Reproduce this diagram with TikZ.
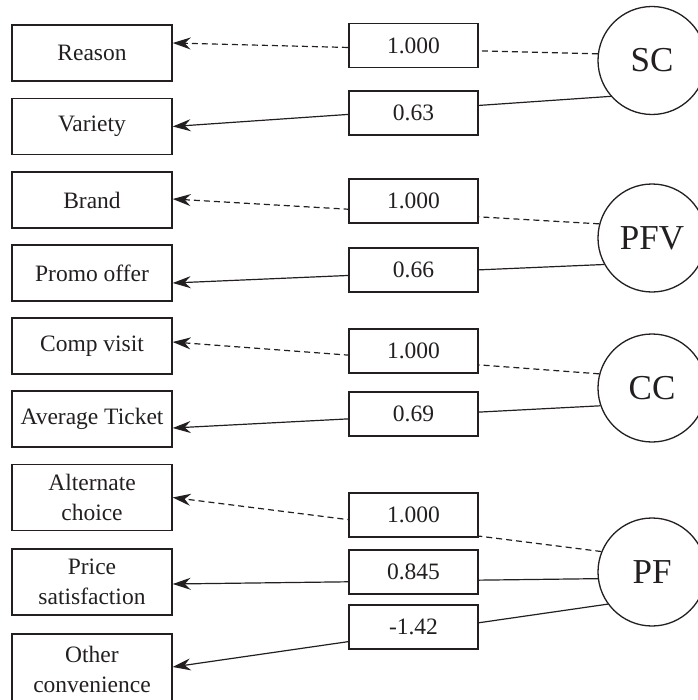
\documentclass[tikz,border=0pt]{standalone}
\usepackage{fontspec}
\setmainfont{Liberation Serif}
\usetikzlibrary{arrows.meta}
\definecolor{ink}{HTML}{231F20}
\begin{document}
\begin{tikzpicture}[x=1bp,y=-1bp,
  every node/.style={text=ink},
  leftbox/.style={draw=ink, line width=1.4bp, minimum width=160bp, minimum height=56bp, inner sep=0pt, align=center,
    font=\fontsize{23.5bp}{30bp}\selectfont},
  tallbox/.style={leftbox, minimum height=66bp},
  midbox/.style={draw=ink, fill=white, line width=1.4bp, minimum width=129bp, minimum height=44bp, inner sep=0pt,
    font=\fontsize{23.5bp}{28bp}\selectfont},
  latent/.style={draw=ink, circle, line width=1.3bp, minimum size=108bp, inner sep=0pt,
    font=\fontsize{35bp}{40bp}\selectfont},
  fixedpath/.style={draw=ink, line width=1.2bp, dash pattern=on 6bp off 4bp, -{Stealth[length=18bp,width=12bp,inset=6bp]}},
  freepath/.style={draw=ink, line width=1.2bp, -{Stealth[length=18bp,width=12bp,inset=6bp]}}
]
\useasboundingbox (0,0) rectangle (698,700);

% observed variables
\node[leftbox] (reason)  at (92,53)    {Reason};
\node[leftbox] (variety) at (92,126.5) {Variety};
\node[leftbox] (brand)   at (92,200)   {Brand};
\node[leftbox] (promo)   at (92,273)   {Promo offer};
\node[leftbox] (comp)    at (92,346)   {Comp visit};
\node[leftbox] (avg)     at (92,419)   {Average Ticket};
\node[tallbox] (alt)     at (92,497.5) {Alternate\\choice};
\node[tallbox] (price)   at (92,582)   {Price\\satisfaction};
\node[tallbox, minimum height=70bp] (other) at (92,669) {Other\\convenience};

% latent variables
\node[latent] (sc)  at (652,60.5) {SC};
\node[latent] (pfv) at (652,238)  {PFV};
\node[latent] (cc)  at (652,388)  {CC};
\node[latent] (pf)  at (652,572)  {PF};

% connectors
\draw[fixedpath] (sc.173)  -- ([yshift=10bp]reason.east);
\draw[freepath]  (sc.221)  -- (variety.east);
\draw[fixedpath] (pfv.165) -- ([yshift=1bp]brand.east);
\draw[freepath]  (pfv.209) -- ([yshift=-10bp]promo.east);
\draw[fixedpath] (cc.165)  -- ([yshift=4bp]comp.east);
\draw[freepath]  (cc.199)  -- ([yshift=-9bp]avg.east);
\draw[fixedpath] (pf.158)  -- (alt.east);
\draw[freepath]  (pf.187)  -- ([yshift=-2bp]price.east);
\draw[freepath]  (pf.216)  -- ([yshift=2bp]other.east);

% loading labels
\node[midbox] (l1) at (413.5,45.5) {1.000};
\node[midbox] (l2) at (413.5,113)  {0.63};
\node[midbox] (l3) at (413.5,201)  {1.000};
\node[midbox] (l4) at (413.5,270)  {0.66};
\node[midbox] (l5) at (413.5,351)  {1.000};
\node[midbox] (l6) at (413.5,414)  {0.69};
\node[midbox] (l7) at (413.5,515)  {1.000};
\node[midbox] (l8) at (413.5,572)  {0.845};
\node[midbox] (l9) at (413.5,627)  {-1.42};
\end{tikzpicture}
\end{document}
